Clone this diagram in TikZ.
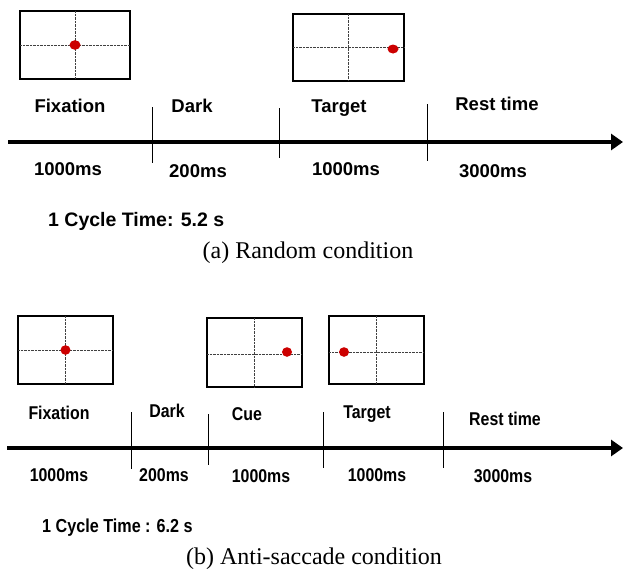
\documentclass[tikz,border=0pt]{standalone}
\usepackage{fontspec}
\setmainfont{Liberation Serif}
\setsansfont{Liberation Sans}
\newfontfamily\narrowsans[FakeStretch=0.86]{Liberation Sans}
\usetikzlibrary{arrows.meta}
\definecolor{dotred}{RGB}{204,0,0}
\begin{document}
\begin{tikzpicture}[x=1pt,y=-1pt,
  screen/.style={draw,line width=1.9pt,minimum width=#1,inner sep=0pt,outer sep=0pt},
  crossline/.style={draw=black!75,line width=0.8pt,dash pattern=on 0.8pt off 0.6pt},
  lbla/.style={font=\sffamily\bfseries\fontsize{18.5}{20}\selectfont,anchor=base,inner sep=0pt},
  lblb/.style={font=\narrowsans\bfseries\fontsize{18.5}{20}\selectfont,anchor=base,inner sep=0pt},
  captext/.style={font=\rmfamily\fontsize{24}{26}\selectfont,anchor=base,inner sep=0pt},
  axis/.style={line width=3.6pt,-{Triangle[length=12pt,width=16pt]}},
  tickline/.style={line width=0.9pt}]
\useasboundingbox (0,0) rectangle (623,568);

% ---------- (a) Random condition ----------
\node[screen=110pt,minimum height=68pt] (a1) at (75,45) {};
\draw[crossline] (a1.north) -- (a1.south);
\draw[crossline] (a1.west) -- (a1.east);
\fill[dotred] (a1.center) ellipse (5.5pt and 4.8pt);

\node[screen=111pt,minimum height=67pt] (a2) at (348.5,47.5) {};
\draw[crossline] (a2.north) -- (a2.south);
\draw[crossline] (a2.west) -- (a2.east);
\fill[dotred] (393,49) ellipse (5.5pt and 4.5pt);

\node[lbla] (fixa) at (70,112) {Fixation};
\node[lbla] (darka) at (192,112) {Dark};
\node[lbla] (targa) at (339,112) {Target};
\node[lbla] (resta) at (497,110) {Rest time};

\coordinate (axa0) at (8,142);
\coordinate (axa1) at (623,142);
\draw[axis] (axa0) -- (axa1);
\coordinate (ta1t) at (152,107); \coordinate (ta1b) at (152,163);
\coordinate (ta2t) at (279,108); \coordinate (ta2b) at (279,158);
\coordinate (ta3t) at (427,104); \coordinate (ta3b) at (427,161);
\draw[tickline] (ta1t) -- (ta1b);
\draw[tickline] (ta2t) -- (ta2b);
\draw[tickline] (ta3t) -- (ta3b);

\node[lbla] (da1) at (68,175) {1000ms};
\node[lbla] (da2) at (198,177) {200ms};
\node[lbla] (da3) at (346,175) {1000ms};
\node[lbla] (da4) at (493,177) {3000ms};

\node[lbla,font=\sffamily\bfseries\fontsize{19.5}{21}\selectfont,anchor=base west] (cyca) at (48,226) {1 Cycle Time: 5.2 s};
\node[captext] (capa) at (308,258) {(a) Random condition};

% ---------- (b) Anti-saccade condition ----------
\node[screen=95pt,minimum height=68pt] (b1) at (65.5,350) {};
\draw[crossline] (b1.north) -- (b1.south);
\draw[crossline] (b1.west) -- (b1.east);
\fill[dotred] (b1.center) ellipse (5pt and 4.8pt);

\node[screen=95pt,minimum height=69pt] (b2) at (254.5,352.5) {};
\draw[crossline] (b2.north) -- (b2.south);
\draw[crossline] ([yshift=-1.5pt]b2.west) -- ([yshift=-1.5pt]b2.east);
\fill[dotred] (287,352) ellipse (5pt and 4.8pt);

\node[screen=95pt,minimum height=68pt] (b3) at (376.5,350) {};
\draw[crossline] (b3.north) -- (b3.south);
\draw[crossline] ([yshift=-2pt]b3.west) -- ([yshift=-2pt]b3.east);
\fill[dotred] (344,352) ellipse (5pt and 4.8pt);

\node[lblb] (fixb) at (59,419) {Fixation};
\node[lblb] (darkb) at (167,417) {Dark};
\node[lblb] (cueb) at (247,420) {Cue};
\node[lblb] (targb) at (367,418) {Target};
\node[lblb] (restb) at (505,425) {Rest time};

\coordinate (axb0) at (7,448);
\coordinate (axb1) at (623,448);
\draw[axis] (axb0) -- (axb1);
\coordinate (tb1t) at (131,412); \coordinate (tb1b) at (131,469);
\coordinate (tb2t) at (208,414); \coordinate (tb2b) at (208,465);
\coordinate (tb3t) at (323,412); \coordinate (tb3b) at (323,468);
\coordinate (tb4t) at (443,412); \coordinate (tb4b) at (443,468);
\draw[tickline] (tb1t) -- (tb1b);
\draw[tickline] (tb2t) -- (tb2b);
\draw[tickline] (tb3t) -- (tb3b);
\draw[tickline] (tb4t) -- (tb4b);

\node[lblb] (db1) at (59,481) {1000ms};
\node[lblb] (db2) at (164,481) {200ms};
\node[lblb] (db3) at (261,482) {1000ms};
\node[lblb] (db4) at (377,481) {1000ms};
\node[lblb] (db5) at (503,482) {3000ms};

\node[lblb,font=\narrowsans\bfseries\fontsize{18.8}{20}\selectfont,anchor=base west] (cycb) at (42,532) {1 Cycle Time : 6.2 s};
\node[captext] (capb) at (314,564) {(b) Anti-saccade condition};
\end{tikzpicture}
\end{document}
